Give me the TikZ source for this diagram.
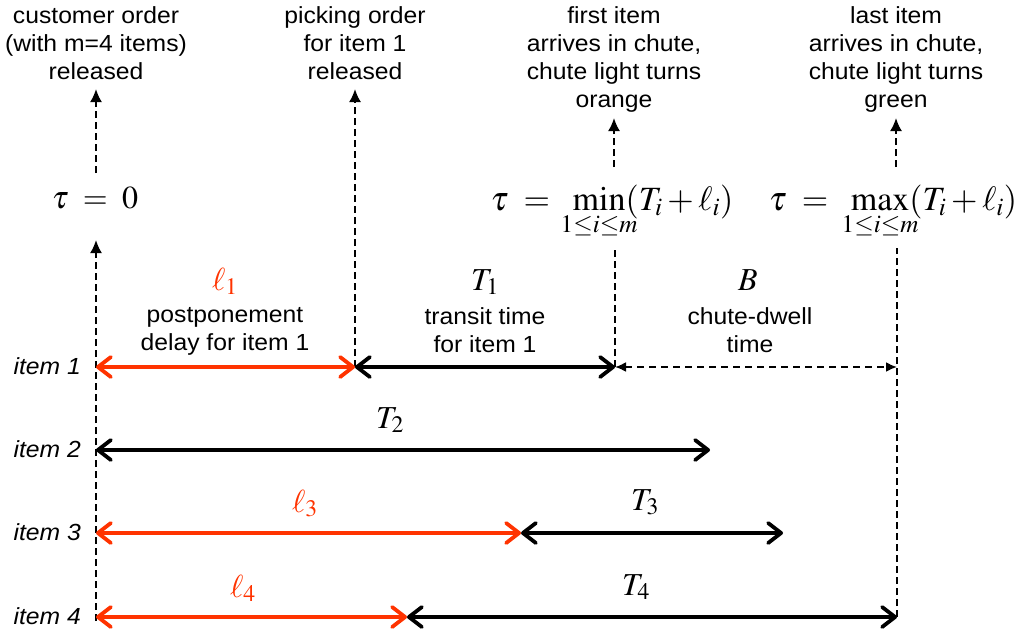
\documentclass[tikz,border=0pt]{standalone}
\usepackage{mathptmx}
\usepackage[no-math]{fontspec}
\newfontfamily\sff{Liberation Sans}[FakeStretch=1.06]
\usetikzlibrary{arrows.meta}
\definecolor{myred}{RGB}{255,51,0}
\newcommand{\limop}[2]{\mathop{\mathrm{#1}}\limits_{\makebox[0pt]{$\scriptstyle #2$}}}
\tikzset{
  lbl/.style={font=\sff\fontsize{23.3}{28}\selectfont, align=center, inner sep=0pt, anchor=north},
  itemlbl/.style={font=\sff\itshape\fontsize{23.3}{28}\selectfont, inner sep=0pt, anchor=base east},
  mth/.style={font=\fontsize{32}{32}\selectfont, inner sep=0pt, anchor=base},
  bigmth/.style={font=\fontsize{34}{34}\selectfont, inner sep=0pt, anchor=base},
  redm/.style={mth, text=myred},
  bar/.style={line width=3.8pt, {Straight Barb[length=13pt,width=20pt,round]}-{Straight Barb[length=13pt,width=20pt,round]}},
  redbar/.style={bar, draw=myred},
  guide/.style={line width=2pt, dash pattern=on 7pt off 4pt},
  guidearr/.style={guide, -{Latex[length=13pt,width=12pt]}},
  dwell/.style={line width=2pt, dash pattern=on 7pt off 5pt, {Latex[length=11pt,width=10pt]}-{Latex[length=11pt,width=10pt]}},
}
\begin{document}
\begin{tikzpicture}[x=1pt,y=-1pt]
\useasboundingbox (0,0) rectangle (1022,632);
% row coordinates
\coordinate (a1) at (96,367);
\coordinate (b1) at (355,367);
\coordinate (c1) at (615,367);
\coordinate (d1) at (897,367);
\coordinate (a2) at (96,450);
\coordinate (e2) at (710,450);
\coordinate (a3) at (96,533);
\coordinate (f3) at (521,533);
\coordinate (g3) at (783,533);
\coordinate (a4) at (96,617);
\coordinate (h4) at (407,617);
\coordinate (d4) at (897,617);
% vertical guide coordinates
\coordinate (abot) at (96,621);
\coordinate (atop) at (96,240);
\coordinate (u1s) at (96,173);
\coordinate (u1t) at (96,89);
\coordinate (b0) at (355,89);
\coordinate (c0) at (615,248);
\coordinate (u3s) at (614,167);
\coordinate (u3t) at (614,118);
\coordinate (d0) at (897,248);
\coordinate (u4s) at (896,167);
\coordinate (u4t) at (896,118);

% top texts
\node[lbl] (top1) at (96,6) {customer order\\(with m=4 items)\\released};
\node[lbl] (top2) at (355,6) {picking order\\for item 1\\released};
\node[lbl] (top3) at (614,6) {first item\\arrives in chute,\\chute light turns\\orange};
\node[lbl] (top4) at (896,6) {last item\\arrives in chute,\\chute light turns\\green};

% formulas
\node[mth] (tau0) at (95,208) {$\tau\;=\;0$};
\node[bigmth] (taumin) at (612,210) {$\tau\;=\;\;\displaystyle\limop{min}{1\le i\le m}(T_i+\ell_i)$};
\node[bigmth] (taumax) at (893,210) {$\tau\;=\;\;\displaystyle\limop{max}{1\le i\le m}(T_i+\ell_i)$};

% guides
\draw[guidearr] (abot) -- (atop);
\draw[guidearr] (u1s) -- (u1t);
\draw[guidearr] (b1) -- (b0);
\draw[guide] (c1) -- (c0);
\draw[guidearr] (u3s) -- (u3t);
\draw[guide] (d4) -- (d0);
\draw[guidearr] (u4s) -- (u4t);

% interval labels
\node[redm] (l1) at (225,290) {$\ell_1$};
\node[lbl] (l1t) at (225,307) {postponement\\delay for item 1};
\node[mth] (t1) at (485,290) {$T_1$};
\node[lbl] (t1t) at (485,307) {transit time\\for item 1};
\node[mth] (bb) at (748,290) {$B$};
\node[lbl] (bbt) at (750,307) {chute-dwell\\time};
\node[mth] (t2) at (390,428) {$T_2$};
\node[redm] (l3) at (305,512) {$\ell_3$};
\node[mth] (t3) at (645,510) {$T_3$};
\node[redm] (l4) at (243,597) {$\ell_4$};
\node[mth] (t4) at (636,595) {$T_4$};

% item labels
\node[itemlbl] (i1) at (81,374) {item 1};
\node[itemlbl] (i2) at (81,457) {item 2};
\node[itemlbl] (i3) at (81,540) {item 3};
\node[itemlbl] (i4) at (81,624) {item 4};

% intervals
\draw[redbar] (a1) -- (b1);
\draw[bar] (b1) -- (c1);
\draw[dwell] (c1) -- (d1);
\draw[bar] (a2) -- (e2);
\draw[redbar] (a3) -- (f3);
\draw[bar] (f3) -- (g3);
\draw[redbar] (a4) -- (h4);
\draw[bar] (h4) -- (d4);
\end{tikzpicture}
\end{document}
